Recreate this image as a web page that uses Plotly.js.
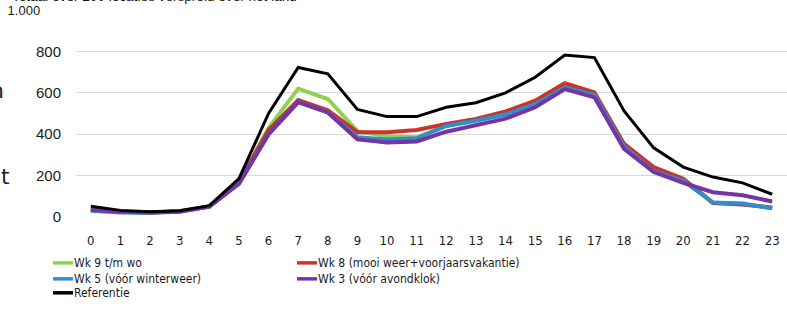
<!DOCTYPE html>
<html>
<head>
<meta charset="utf-8">
<script src="https://cdn.plot.ly/plotly-3.0.1.min.js"></script>
<style>
  html, body { margin: 0; padding: 0; background: #fff; }
  #chart { width: 787px; height: 313px; }
</style>
</head>
<body>
<div id="chart"></div>
<script>
// ---- data ----
const hours = [0,1,2,3,4,5,6,7,8,9,10,11,12,13,14,15,16,17,18,19,20,21,22,23];
const hourLabels = hours.map(String);

const wk9 = [40,27,22,28,52,170,430,620,570,415,390,385,440,468,498,548,630,595,345,225,180,70,62,45];
const wk8 = [35,25,22,28,50,170,420,565,515,410,410,420,450,474,510,562,646,602,353,241,185,68,60,45];
const wk5 = [30,22,20,25,50,165,400,555,505,385,375,380,440,465,495,545,625,590,340,220,175,70,65,42];
const wk3 = [35,25,22,27,50,160,400,555,505,375,360,365,412,445,475,530,618,578,329,217,165,120,105,75];
const ref = [52,32,25,30,55,185,500,722,692,520,485,485,530,552,600,675,782,770,512,334,241,193,165,110];

const seriesNames = ["Wk 9 t/m wo","Wk 8 (mooi weer+voorjaarsvakantie)","Wk 5 (vóór winterweer)","Wk 3 (vóór avondklok)","Referentie"];
const seriesValues = [wk9, wk8, wk5, wk3, ref];
const seriesColors = ["#92d050","#c9342c","#2f8fcb","#7434a4","#000000"];
const seriesWidths = [4,4,4,4,3];

const yTicks = [0,200,400,600,800,1000];
const yTickLabels = ["0","200","400","600","800","1.000"];
const titleText = "Totaal over 200 locaties verspreid over het land";

// ---- geometry (pixels) ----
const W = 787, H = 313;
const mL = 76, mR = 0, mT = 9.5, mB = 96;
const pw = W - mL - mR, ph = H - mT - mB;
const px = p => (p - mL) / pw;          // pixel x -> paper x
const py = p => (H - mB - p) / ph;      // pixel y -> paper y

const traces = seriesValues.map((vals, i) => ({
  type: "scatter",
  mode: "lines",
  x: hourLabels,
  y: vals,
  name: seriesNames[i],
  line: { color: seriesColors[i], width: seriesWidths[i] },
  showlegend: false,
  hoverinfo: "skip"
}));

// manual legend (2 columns)
const legendSlots = [
  { lx: 53, ly: 263 }, { lx: 297, ly: 263 },
  { lx: 53, ly: 279 }, { lx: 297, ly: 279 },
  { lx: 53, ly: 293 }
];
const shapes = [];
const annotations = [];
legendSlots.forEach((s, i) => {
  shapes.push({
    type: "line", xref: "paper", yref: "paper",
    x0: px(s.lx), x1: px(s.lx + 20), y0: py(s.ly), y1: py(s.ly),
    line: { color: seriesColors[i], width: 3.5 }
  });
  annotations.push({
    xref: "paper", yref: "paper", x: px(s.lx + 19), y: py(s.ly),
    xanchor: "left", yanchor: "middle", showarrow: false,
    text: seriesNames[i],
    font: { family: "DejaVu Sans Condensed, DejaVu Sans", size: 12, color: "#1a1a1a" }
  });
});

// clipped title at top
annotations.push({
  xref: "paper", yref: "paper", x: px(10), y: py(-4),
  xanchor: "left", yanchor: "middle", showarrow: false,
  text: titleText,
  font: { family: "Liberation Sans, Arial", size: 13.6, color: "#111" }
});
// clipped letters from neighbouring text at the left edge
annotations.push({
  xref: "paper", yref: "paper", x: px(6), y: py(90),
  xanchor: "right", yanchor: "middle", showarrow: false,
  text: "n", font: { family: "DejaVu Sans", size: 22, color: "#222" }
});
annotations.push({
  xref: "paper", yref: "paper", x: px(12), y: py(176),
  xanchor: "right", yanchor: "middle", showarrow: false,
  text: "t", font: { family: "DejaVu Sans", size: 22, color: "#222" }
});

// the top tick label sits further left and smaller in the reference
const yTickText = yTickLabels.map((t, i) =>
  i === yTickLabels.length - 1
    ? "<span style='font-size:13px'>" + t + "</span>\u00a0\u00a0\u00a0\u00a0\u00a0"
    : t);

const layout = {
  width: W, height: H,
  margin: { l: mL, r: mR, t: mT, b: mB, pad: 0 },
  paper_bgcolor: "#ffffff",
  plot_bgcolor: "#ffffff",
  showlegend: false,
  xaxis: {
    type: "category",
    range: [-0.5, 23.5],
    tickvals: hourLabels,
    ticktext: hourLabels,
    showgrid: false, zeroline: false, showline: false,
    ticks: "", ticklen: 0,
    ticklabelstandoff: 14,
    tickfont: { family: "DejaVu Sans Condensed, DejaVu Sans", size: 13, color: "#1a1a1a" },
    automargin: false
  },
  yaxis: {
    range: [0, 1000],
    tickvals: yTicks,
    ticktext: yTickText,
    showgrid: true, gridcolor: "#d9d9d9", gridwidth: 1,
    zeroline: false, showline: false, ticks: "",
    ticklabelstandoff: 14,
    tickfont: { family: "Liberation Sans, Arial", size: 15, color: "#1a1a1a" },
    automargin: false
  },
  shapes: shapes,
  annotations: annotations
};

Plotly.newPlot("chart", traces, layout, { staticPlot: true, displayModeBar: false });
</script>
</body>
</html>
